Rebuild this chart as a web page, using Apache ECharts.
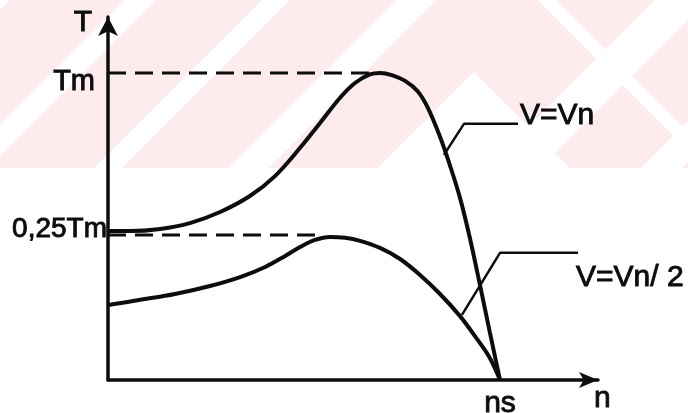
<!DOCTYPE html>
<html>
<head>
<meta charset="utf-8">
<script src="https://cdn.jsdelivr.net/npm/echarts@6/dist/echarts.min.js"></script>
<style>
html,body{margin:0;padding:0;background:#fff;}
#c{width:688px;height:413px;}
</style>
</head>
<body>
<div id="c"></div>
<script>
// n expressed as n/ns, T expressed as T/Tm (as drawn, schematic)
const upperCurve = [[0,0.485],[0.056,0.485],[0.133,0.492],[0.209,0.511],[0.286,0.547],[0.362,0.599],[0.426,0.664],[0.490,0.756],[0.541,0.837],[0.592,0.919],[0.630,0.967],[0.668,0.995],[0.694,1.0],[0.724,0.993],[0.758,0.974],[0.790,0.940],[0.816,0.886],[0.847,0.792],[0.872,0.700],[0.898,0.593],[0.923,0.463],[0.949,0.309],[0.974,0.156],[1.0,0]];
const lowerCurve = [[0,0.244],[0.082,0.261],[0.171,0.280],[0.260,0.306],[0.339,0.336],[0.401,0.368],[0.452,0.404],[0.490,0.433],[0.528,0.456],[0.566,0.466],[0.605,0.463],[0.643,0.453],[0.694,0.430],[0.745,0.394],[0.796,0.342],[0.847,0.280],[0.898,0.208],[0.936,0.143],[0.974,0.072],[1.0,0]];
const tmGuide = [[0,1.0],[0.67,1.0]];
const quarterGuide = [[0,0.472],[0.54,0.472]];
const calloutVn = [[0.857,0.733],[0.908,0.834],[1.046,0.834]];
const calloutVn2 = [[0.903,0.212],[1.0,0.414],[1.199,0.414]];
const seriesNames = ['V=Vn','V=Vn/ 2'];
const yTickValues = [0.472, 1.0];
const yTickLabels = ['0,25Tm','Tm'];
const xTickValues = [1.0];
const xTickLabels = ['ns'];
const axisNames = {x:'n', y:'T'};

const FONT = '"Liberation Sans", Arial, sans-serif';
const ink = '#0d0d0d';
const heavy = {textBorderColor:ink, textBorderWidth:0.9};

// faint background watermark (decoration)
const pink = '#fdebee';
function band(a, w, dir){ // dir 1 => "/" , -1 => "\"
  const h = 168;
  if (dir === 1) return [[a,0],[a+w,0],[a+w-h,h],[a-h,h]];
  return [[a,0],[a+w,0],[a+w+h,h],[a+h,h]];
}
const wm = [
  {type:'rect', shape:{x:0,y:0,width:688,height:168}, style:{fill:pink}, z:-10, silent:true},
];
[[-20,30],[125,31],[262,28],[397,40],[655,53],[809,41]].forEach(b=>{
  wm.push({type:'polygon', shape:{points:band(b[0],b[1],1)}, style:{fill:'#fff'}, z:-9, silent:true});
});
wm.push({type:'polygon', shape:{points:band(538,18,-1)}, style:{fill:'#fff'}, z:-9, silent:true});
wm.push({type:'polygon', shape:{points:[[474,72],[378,168],[570,168]]}, style:{fill:'#fff'}, z:-9, silent:true});

const chart = echarts.init(document.getElementById('c'), null, {renderer:'canvas'});
chart.setOption({
  animation:false,
  backgroundColor:'#fff',
  graphic: wm,
  grid:{left:108, right:90, top:17, bottom:33, containLabel:false, outerBoundsMode:'none'},
  xAxis:{
    type:'value', min:0, max:1.25,
    name:axisNames.x, nameLocation:'end', nameGap:-4,
    nameTextStyle:Object.assign({fontFamily:FONT, fontSize:30, color:ink, align:'left', verticalAlign:'top', padding:[4,0,0,0]}, heavy),
    axisLine:{show:true, onZero:false, symbol:['none','arrow'], symbolSize:[12,19], lineStyle:{color:ink, width:3.5}},
    axisTick:{show:false},
    splitLine:{show:false},
    axisLabel:Object.assign({customValues:xTickValues, formatter:v=>xTickLabels[xTickValues.indexOf(v)]||'', fontFamily:FONT, fontSize:30, color:ink, margin:9}, heavy)
  },
  yAxis:{
    type:'value', min:0, max:1.182,
    name:axisNames.y, nameLocation:'end', nameGap:-6,
    nameTextStyle:Object.assign({fontFamily:FONT, fontSize:30, color:ink, align:'right', verticalAlign:'middle', padding:[0,16,0,0]}, heavy),
    axisLine:{show:true, onZero:false, symbol:['none','arrow'], symbolSize:[15,19], lineStyle:{color:ink, width:3.5}},
    axisTick:{show:false},
    splitLine:{show:false},
    axisLabel:{
      customValues:yTickValues,
      margin:1,
      formatter:v=>{const i=yTickValues.indexOf(v); return i<0?'':(i===1?'{a|'+yTickLabels[i]+'}':'{b|'+yTickLabels[i]+'}');},
      rich:{
        a:Object.assign({fontFamily:FONT, fontSize:29, color:ink, padding:[18,12,0,0]}, heavy),
        b:Object.assign({fontFamily:FONT, fontSize:28, color:ink, padding:[0,0,12,0]}, heavy)
      }
    }
  },
  series:[
    {type:'line', data:upperCurve, smooth:0.35, symbol:'none', lineStyle:{color:ink, width:4}, z:5},
    {type:'line', data:lowerCurve, smooth:0.35, symbol:'none', lineStyle:{color:ink, width:4}, z:5},
    {type:'line', data:tmGuide, symbol:'none', lineStyle:{color:ink, width:3, type:[18,9]}, z:4},
    {type:'line', data:quarterGuide, symbol:'none', lineStyle:{color:ink, width:3, type:[18,9]}, z:4},
    {type:'line', name:seriesNames[0], data:calloutVn, symbol:'none', lineStyle:{color:ink, width:2.5}, z:4,
      endLabel:Object.assign({show:true, formatter:'{a}', distance:2, offset:[0,-8], fontFamily:FONT, fontSize:30, color:ink}, heavy)},
    {type:'line', name:seriesNames[1], data:calloutVn2, symbol:'none', lineStyle:{color:ink, width:2.5}, z:4,
      endLabel:Object.assign({show:true, formatter:'{a}', distance:0, offset:[-2,25], fontFamily:FONT, fontSize:30, color:ink}, heavy)}
  ]
});
</script>
</body>
</html>
